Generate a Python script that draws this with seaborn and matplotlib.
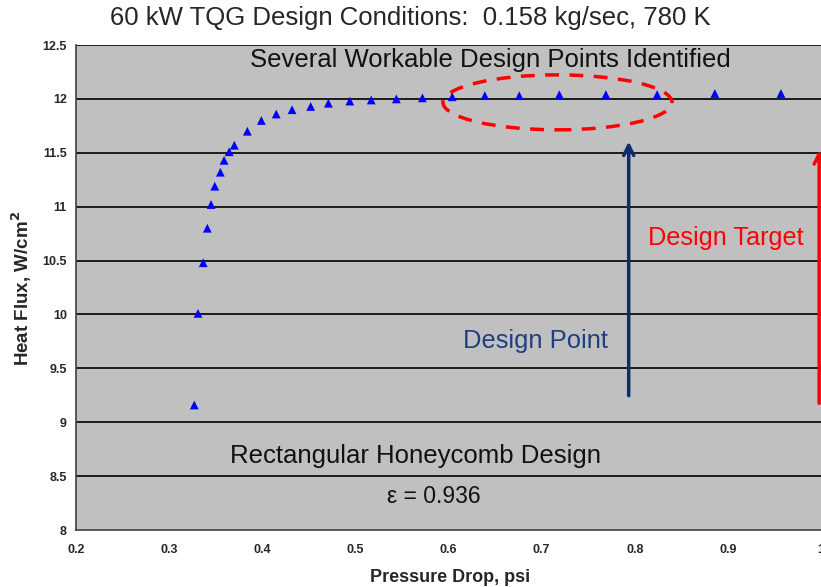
import numpy as np
import pandas as pd
import seaborn as sns
import matplotlib.pyplot as plt
from matplotlib.patches import Ellipse

# Pressure drop (psi) vs heat flux (W/cm^2)
pressure_drop = [0.327, 0.331, 0.3366, 0.341, 0.345, 0.349, 0.355, 0.359, 0.3645, 0.370,
                 0.384, 0.399, 0.415, 0.432, 0.452, 0.471, 0.494, 0.517, 0.544, 0.572,
                 0.604, 0.639, 0.676, 0.719, 0.769, 0.824, 0.886, 0.957]
heat_flux = [9.16, 10.01, 10.48, 10.80, 11.02, 11.19, 11.32, 11.43, 11.51, 11.57,
             11.70, 11.80, 11.86, 11.90, 11.93, 11.96, 11.98, 11.99, 12.00, 12.01,
             12.02, 12.03, 12.03, 12.04, 12.04, 12.04, 12.05, 12.05]

x_ticks = [0.2, 0.3, 0.4, 0.5, 0.6, 0.7, 0.8, 0.9, 1.0]
x_tick_labels = ["0.2", "0.3", "0.4", "0.5", "0.6", "0.7", "0.8", "0.9", "1"]
y_ticks = [8, 8.5, 9, 9.5, 10, 10.5, 11, 11.5, 12, 12.5]
y_tick_labels = ["8", "8.5", "9", "9.5", "10", "10.5", "11", "11.5", "12", "12.5"]

df = pd.DataFrame({"dp": pressure_drop, "q": heat_flux})

sns.set_style("white")
plt.rcParams['font.family'] = ['Liberation Sans', 'DejaVu Sans']

fig = plt.figure(figsize=(8.21, 5.87), dpi=100)
ax = fig.add_axes([0.0926, 0.0971, 0.9074, 0.8262])
ax.set_facecolor("#c0c0c0")

# horizontal grid lines
for yv in y_ticks[1:]:
    ax.axhline(yv, color="black", lw=1.2, zorder=1)

sns.scatterplot(data=df, x="dp", y="q", marker="^", color="#0000ff",
                s=40, edgecolor="none", ax=ax, zorder=3)

ax.set_xlim(0.2, 1.0)
ax.set_ylim(8, 12.5)
ax.set_xticks(x_ticks)
ax.set_xticklabels(x_tick_labels, fontsize=9, fontweight="bold")
ax.set_yticks(y_ticks)
ax.set_yticklabels(y_tick_labels, fontsize=9, fontweight="bold")
ax.tick_params(axis="x", direction="in", length=4, pad=10, color="#404040")
ax.tick_params(axis="y", direction="out", length=3, pad=3.5, color="#404040")
for side in ["top", "right"]:
    ax.spines[side].set_visible(False)
for side in ["left", "bottom"]:
    ax.spines[side].set_color("#404040")
    ax.spines[side].set_linewidth(1.2)

ax.set_xlabel("")
ax.set_ylabel("")
fig.text(0.548, 0.017, "Pressure Drop, psi", ha="center", va="center",
         fontsize=13, fontweight="bold")
fig.text(0.027, 0.509, "Heat Flux, W/cm$^\\mathbf{2}$", ha="center", va="center",
         rotation=90, fontsize=13.5, fontweight="bold")
fig.text(0.5, 0.969, "60 kW TQG Design Conditions:  0.158 kg/sec, 780 K",
         ha="center", va="center", fontsize=18.5)

# annotations
ax.add_patch(Ellipse((0.717, 11.968), 0.246, 0.51, fill=False, edgecolor="#ff0000",
                     lw=2.5, ls=(0, (4, 3)), zorder=4))
ax.text(0.645, 12.36, "Several Workable Design Points Identified", ha="center",
        va="center", fontsize=18.5, color="#111111")
ax.text(0.898, 10.71, "Design Target", ha="center", va="center", fontsize=18.2,
        color="#ff0000")
ax.text(0.6935, 9.75, "Design Point", ha="center", va="center", fontsize=18.4,
        color="#1f3f7f")
ax.text(0.5645, 8.69, "Rectangular Honeycomb Design", ha="center", va="center",
        fontsize=18.5, color="#111111")
ax.text(0.584, 8.31, "\u03b5 = 0.936", ha="center", va="center", fontsize=16.5,
        color="#111111")

ax.annotate("", xy=(0.7935, 11.63), xytext=(0.7935, 9.22),
            arrowprops=dict(arrowstyle="->", color="#0f2a6e", lw=2.5,
                            mutation_scale=18))
ax.annotate("", xy=(0.998, 11.55), xytext=(0.998, 9.15),
            arrowprops=dict(arrowstyle="->", color="#ff0000", lw=2.5,
                            mutation_scale=18), annotation_clip=False)

fig.savefig("out.png", dpi=100)
